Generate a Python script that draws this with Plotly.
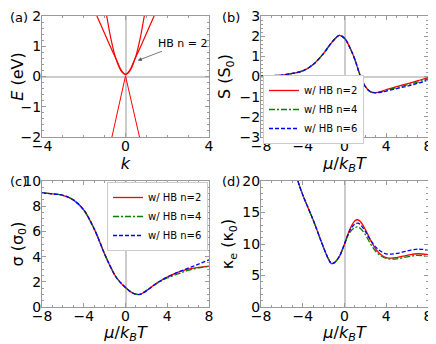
import plotly.graph_objects as go

# (a) band structure
k_inner = [-0.9, -0.7, -0.5, -0.3, -0.15, 0, 0.15, 0.3, 0.5, 0.7, 0.9]
E_inner = [2.0, 1.25, 0.68, 0.3, 0.13, 0.07, 0.13, 0.3, 0.68, 1.25, 2.0]
k_outer = [-1.37, -1.0, -0.7, -0.4, -0.2, 0, 0.2, 0.4, 0.7, 1.0, 1.37]
E_outer = [2.0, 1.42, 0.95, 0.5, 0.2, 0.07, 0.2, 0.5, 0.95, 1.42, 2.0]
k_low = [-0.65, 0, 0.67]
E_low = [-2.0, 0.02, -2.0]

# (b)-(d) transport vs mu/kBT
mu = [-8, -7, -6, -5, -4, -3, -2, -1.5, -1, -0.5, 0, 0.5, 1, 1.5, 2, 2.5, 3, 3.5, 4, 5, 6, 7, 8]
S_n2 = [0.02, 0.04, 0.07, 0.15, 0.28, 0.6, 1.15, 1.5, 1.82, 2.04, 1.9, 1.45, 0.83, 0.05, -0.5, -0.76, -0.8, -0.74, -0.65, -0.5, -0.36, -0.21, -0.05]
S_n4 = [0.02, 0.04, 0.07, 0.15, 0.28, 0.6, 1.15, 1.5, 1.82, 2.04, 1.9, 1.45, 0.83, 0.05, -0.5, -0.76, -0.8, -0.76, -0.68, -0.55, -0.42, -0.28, -0.12]
S_n6 = [0.02, 0.04, 0.07, 0.15, 0.28, 0.6, 1.15, 1.5, 1.82, 2.04, 1.9, 1.45, 0.83, 0.05, -0.5, -0.76, -0.81, -0.78, -0.72, -0.6, -0.48, -0.34, -0.18]

sig_n2 = [9.05, 8.98, 8.86, 8.5, 7.7, 6.2, 4.2, 3.3, 2.5, 1.95, 1.55, 1.2, 1.02, 1.05, 1.3, 1.6, 1.9, 2.15, 2.38, 2.75, 3.0, 3.15, 3.25]
sig_n4 = [9.05, 8.98, 8.86, 8.5, 7.7, 6.2, 4.2, 3.3, 2.5, 1.95, 1.55, 1.2, 1.02, 1.05, 1.3, 1.58, 1.87, 2.1, 2.3, 2.62, 2.9, 3.1, 3.22]
sig_n6 = [9.05, 8.98, 8.86, 8.5, 7.7, 6.2, 4.2, 3.3, 2.5, 1.95, 1.55, 1.2, 1.0, 1.03, 1.28, 1.6, 1.9, 2.15, 2.38, 2.75, 3.08, 3.4, 3.75]

mu_k = [-8, -7, -6, -5, -4.5, -4, -3, -2, -1.5, -1.25, -1, -0.5, 0, 0.5, 1, 1.25, 1.5, 2, 2.5, 3, 3.5, 4, 4.5, 5, 6, 7, 8]
kap_n2 = [45, 37, 30, 23.5, 20.2, 17.8, 13.8, 9.4, 7.5, 6.9, 7.0, 8.0, 10.0, 12.3, 13.7, 13.85, 13.6, 12.3, 10.6, 9.2, 8.3, 7.85, 7.75, 7.85, 8.2, 8.45, 8.3]
kap_n4 = [45, 37, 30, 23.5, 20.2, 17.8, 13.8, 9.4, 7.5, 6.9, 7.0, 8.0, 10.0, 11.8, 12.6, 12.7, 12.5, 11.5, 10.0, 8.8, 8.1, 7.7, 7.6, 7.65, 7.95, 8.2, 8.0]
kap_n6 = [45, 37, 30, 23.5, 20.2, 17.8, 13.8, 9.4, 7.5, 6.9, 7.0, 8.0, 10.0, 12.1, 13.2, 13.3, 13.1, 12.0, 10.6, 9.5, 8.8, 8.45, 8.4, 8.5, 8.9, 9.2, 9.0]

labels = ['w/ HB n=2', 'w/ HB n=4', 'w/ HB n=6']
colors = ['#ff0000', '#008000', '#0000ff']
dashes = ['solid', '6px,2px,2px,2px', '4px,2px']

fig = go.Figure()

for kk, ee in [(k_inner, E_inner), (k_outer, E_outer)]:
    fig.add_trace(go.Scatter(x=kk, y=ee, mode='lines', line=dict(color='#ff0000', width=1.2, shape='spline'),
                             showlegend=False, xaxis='x', yaxis='y'))
fig.add_trace(go.Scatter(x=k_low, y=E_low, mode='lines', line=dict(color='#ff0000', width=1),
                         showlegend=False, xaxis='x', yaxis='y'))

for i, (s, sg, kp) in enumerate(zip([S_n2, S_n4, S_n6], [sig_n2, sig_n4, sig_n6], [kap_n2, kap_n4, kap_n6])):
    ln = dict(color=colors[i], width=1.3, dash=dashes[i], shape='spline')
    fig.add_trace(go.Scatter(x=mu, y=s, mode='lines', line=ln, name=labels[i],
                             legend='legend', xaxis='x2', yaxis='y2'))
    fig.add_trace(go.Scatter(x=mu, y=sg, mode='lines', line=ln, name=labels[i],
                             legend='legend2', xaxis='x3', yaxis='y3'))
    fig.add_trace(go.Scatter(x=mu_k, y=kp, mode='lines', line=ln, name=labels[i],
                             showlegend=False, xaxis='x4', yaxis='y4'))

# the page body adds an 8px margin, so the figure is 8px smaller and shifted back
OFF = 8
W, H = 436 - OFF, 344 - OFF

def fx(px):
    return (px - OFF) / W

def fy(py):
    return 1 - (py - OFF) / H

xa = [fx(42), fx(209)]
xb = [fx(261), fx(428)]
ytop = [fy(137), fy(16)]
ybot = [fy(307), fy(181)]

def ax(dom, rng, dtick, minor, title, anchor, zero=True, standoff=4, lab_off=-3):
    return dict(domain=dom, range=rng, dtick=dtick, tick0=0, anchor=anchor, automargin=False,
                showline=True, mirror='allticks', linecolor='#9a9a9a', linewidth=1,
                ticks='inside', ticklen=4, tickcolor='#9a9a9a', ticklabelstandoff=lab_off,
                ticklabeloverflow='allow',
                minor=dict(ticks='inside', ticklen=2, dtick=minor, tickcolor='#9a9a9a'),
                showgrid=False, zeroline=zero, zerolinecolor='#cccccc', zerolinewidth=1.5,
                tickfont=dict(size=14, color='black'),
                title=dict(text=title, font=dict(size=16, color='black'), standoff=standoff))

mulab = '<i>μ</i>/<i>k</i><sub><i>B</i></sub><i>T</i>'

fig.update_layout(
    template='none',
    width=W, height=H, margin=dict(l=0, r=0, t=0, b=0, pad=0),
    paper_bgcolor='white', plot_bgcolor='white',
    font=dict(family='DejaVu Sans', color='black'),
    xaxis=ax(xa, [-4, 4], 4, 1, '<i>k</i>', 'y', standoff=1, lab_off=-4),
    yaxis=ax(ytop, [-2, 2], 1, 0.2, '<i>E</i> (eV)', 'x'),
    xaxis2=ax(xb, [-8, 8], 4, 1, mulab, 'y2', lab_off=-4),
    yaxis2=ax(ytop, [-3, 3], 1, 0.2, 'S (S<sub>0</sub>)', 'x2'),
    xaxis3=ax(xa, [-8, 8], 4, 1, mulab, 'y3', lab_off=-4),
    yaxis3=ax(ybot, [0, 10], 2, 0.5, 'σ (σ<sub>0</sub>)', 'x3', zero=False),
    xaxis4=ax(xb, [-8, 8], 4, 1, mulab, 'y4', lab_off=-4),
    yaxis4=ax(ybot, [0, 20], 5, 1, 'κ<sub>e</sub> (κ<sub>0</sub>)', 'x4', zero=False),
    legend=dict(x=fx(263), y=fy(75), xanchor='left', yanchor='top', font=dict(size=10),
                itemwidth=30, tracegroupgap=0,
                bgcolor='white', bordercolor='#cccccc', borderwidth=1),
    legend2=dict(x=fx(208), y=fy(182), xanchor='right', yanchor='top', font=dict(size=10),
                 itemwidth=30, tracegroupgap=0,
                 bgcolor='white', bordercolor='#cccccc', borderwidth=1),
)

fig.add_annotation(x=0.59, y=0.53, ax=2.75, ay=1.1, axref='x', ayref='y', xref='x', yref='y',
                   text='HB n = 2', showarrow=True, arrowhead=2, arrowsize=1, arrowwidth=0.8,
                   arrowcolor='#555555', font=dict(size=11, color='black'))

for lab, px, py in [('(a)', 8, 8), ('(b)', 220, 8), ('(c)', 8, 172), ('(d)', 220, 172)]:
    fig.add_annotation(text=lab, x=fx(px), y=fy(py), xref='paper', yref='paper',
                       xanchor='left', yanchor='top', showarrow=False, font=dict(size=13, color='black'))

fig.write_html("out.html")
